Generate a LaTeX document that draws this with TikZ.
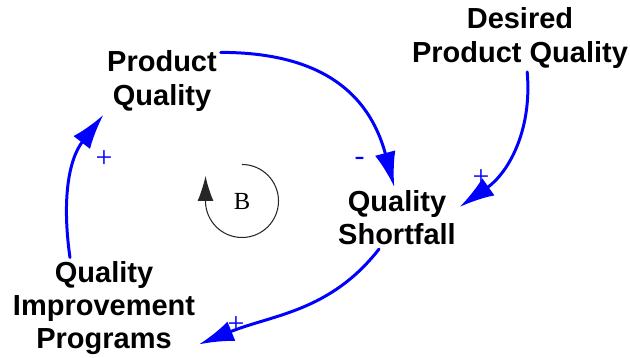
\documentclass[tikz,border=0pt]{standalone}
\usepackage{fontspec}
\setmainfont{Liberation Serif}
\setsansfont{Liberation Sans}
\usetikzlibrary{arrows.meta}

\begin{document}
\begin{tikzpicture}
  \tikzset{var/.style={align=center, inner sep=2pt, font=\sffamily\bfseries\fontsize{16.5}{18.8}\selectfont},
           link/.style={draw=blue, line width=1.7pt, line cap=round, -{Latex[length=7mm,width=4.2mm]}},
           sgn/.style={text=blue, inner sep=0pt, font=\fontsize{17}{18}\selectfont} }
  \useasboundingbox (0,0) rectangle (12.6,7.16);

  \node[var] (pq)  at (3.24, 5.54) {Product\\Quality};
  \node[var] (dpq) at (10.4, 6.40) {Desired\\Product Quality};
  \node[var] (qs)  at (7.94, 2.80) {Quality\\Shortfall};
  \node[var] (qip) at (2.08, 1.00) {Quality\\Improvement\\Programs};

  \node (b) at (4.84, 3.14) [font=\fontsize{14}{16}\selectfont] {B};

  \draw[link] (pq.26) to[out=0, in=105, looseness=1.15] (qs.95);
  \draw[link] (dpq.-78) to[out=-85, in=35] (qs.10);
  \draw[link] (qs.-120) to[out=-128, in=22] (qip.-21);
  \draw[link] (qip.124) to[out=98, in=232] (pq.south west);

  \node[sgn] (s1) at (7.19, 3.93) {-};
  \node[sgn] (s2) at (9.62, 3.60) {+};
  \node[sgn] (s3) at (4.72, 0.66) {+};
  \node[sgn] (s4) at (2.08, 3.98) {+};

  % loop marker
  \draw[black!85, line width=0.6pt, -{Latex[length=5mm,width=3.2mm]}]
    ([yshift=0.73cm]b.center) arc[start angle=90, end angle=-180, radius=0.73] -- ++(0,0.5);
\end{tikzpicture}
\end{document}
